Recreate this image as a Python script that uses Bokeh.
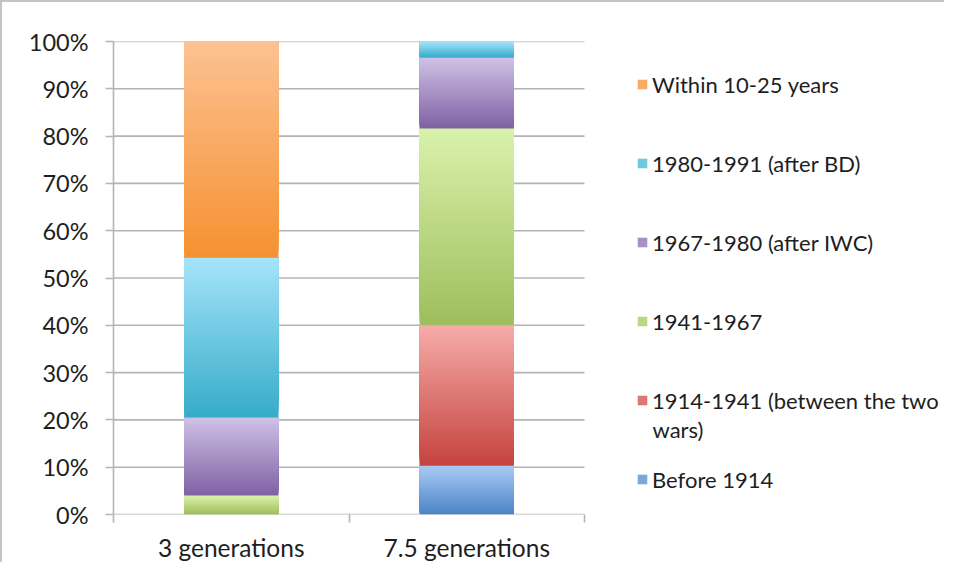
from bokeh.plotting import figure
from bokeh.models import (ColumnDataSource, Legend, LegendItem, FixedTicker,
                          Range1d, PrintfTickFormatter, Label)
from bokeh.embed import file_html
from bokeh.resources import INLINE

# ---------------- data ----------------
categories = ["3 generations", "7.5 generations"]
series_names = ["Before 1914", "1914-1941 (between the two wars)", "1941-1967",
                "1967-1980 (after IWC)", "1980-1991 (after BD)", "Within 10-25 years"]
before_1914 = [0.0, 10.3]
between_wars = [0.0, 29.7]
p1941_1967 = [4.0, 41.6]
p1967_1980 = [16.5, 15.0]
p1980_1991 = [33.8, 3.4]
within_10_25 = [45.7, 0.0]
y_ticks = [0, 10, 20, 30, 40, 50, 60, 70, 80, 90, 100]

series_values = [before_1914, between_wars, p1941_1967, p1967_1980, p1980_1991, within_10_25]
top_colors = ["#A9CBF5", "#F7ACAA", "#DAF2AB", "#CFC2E6", "#A6E4FA", "#FCC293"]
bottom_colors = ["#4A84C4", "#C4433E", "#9DBE5C", "#7F61A3", "#36ACC9", "#F69131"]

# ---------------- layout / style ----------------
FONT = "Lato"
TXT = "#1e1e1e"
GRID = "#b4b4b4"
W, H = 944, 562
LEFT, TOP, BOTTOM = 111, 39, 48
PLOT_W = 471                       # width of the data area (px)
FRAME_W = W - LEFT
FRAME_H = H - TOP - BOTTOM
n_cat = len(categories)
x_end = n_cat * FRAME_W / PLOT_W   # frame extends right to host the legend

def h2rgb(h):
    h = h.lstrip("#")
    return tuple(int(h[i:i + 2], 16) for i in (0, 2, 4))

def mix(c1, c2, t):
    a, b = h2rgb(c1), h2rgb(c2)
    return "#%02x%02x%02x" % tuple(round(a[i] + (b[i] - a[i]) * t) for i in range(3))

p = figure(width=W, height=H, output_backend="svg", toolbar_location=None,
           x_range=Range1d(0, x_end), y_range=Range1d(0, 100),
           min_border_left=LEFT, min_border_right=0, min_border_top=TOP,
           min_border_bottom=BOTTOM)
p.outline_line_color = None
p.background_fill_color = "white"
p.border_fill_color = "white"
p.styles = {"border-top": "2px solid #c4c4c4", "border-left": "2px solid #c4c4c4"}

# ---------- horizontal grid lines (only over the data area) ----------
p.segment(x0=[0] * len(y_ticks), x1=[n_cat] * len(y_ticks), y0=y_ticks, y1=y_ticks,
          line_color=GRID, line_width=1.6)

# ---------- stacked bars with vertical gradient ----------
# each segment is painted bottom-up by layers that all reach the segment top,
# so the layers overlap and leave no seams
N = 60
legend_items = []
cum = [0.0] * n_cat
for s, vals in enumerate(series_values):
    xs, bots, tops, cols = [], [], [], []
    for i, v in enumerate(vals):
        b0 = cum[i]
        if v > 0:
            for k in range(N):
                xs.append(i + 0.5)
                bots.append(b0 + v * k / N)
                tops.append(b0 + v)
                cols.append(mix(bottom_colors[s], top_colors[s], (k + 0.5) / N))
        cum[i] = b0 + v
    src = ColumnDataSource(dict(x=xs, bottom=bots, top=tops, color=cols))
    r = p.vbar(x="x", bottom="bottom", top="top", width=0.4, source=src,
               fill_color="color", line_color=None)
    legend_items.append((s, r))

# ---------- axes ----------
p.yaxis.ticker = FixedTicker(ticks=y_ticks)
p.yaxis.formatter = PrintfTickFormatter(format="%d%%")
p.yaxis.axis_line_color = GRID
p.yaxis.axis_line_width = 1.6
p.yaxis.major_tick_line_color = GRID
p.yaxis.major_tick_line_width = 1.6
p.yaxis.major_tick_out = 8
p.yaxis.major_tick_in = 0
p.yaxis.minor_tick_line_color = None
p.yaxis.major_label_standoff = 17
p.yaxis.major_label_text_font = FONT
p.yaxis.major_label_text_font_size = "23.5px"
p.yaxis.major_label_text_color = TXT

centers = [i + 0.5 for i in range(n_cat)]
p.xaxis.ticker = FixedTicker(ticks=centers, minor_ticks=list(range(n_cat + 1)))
p.xaxis.major_label_overrides = {c: lab for c, lab in zip(centers, categories)}
p.xaxis.major_tick_line_color = None
p.xaxis.major_tick_out = 8
p.xaxis.minor_tick_line_color = GRID
p.xaxis.minor_tick_line_width = 1.6
p.xaxis.minor_tick_out = 8
p.xaxis.minor_tick_in = 0
p.xaxis.axis_line_color = None
p.xaxis.major_label_standoff = 10
p.xaxis.major_label_text_font = FONT
p.xaxis.major_label_text_font_size = "24.5px"
p.xaxis.major_label_text_color = TXT

p.xgrid.grid_line_color = None
p.ygrid.grid_line_color = None

# ---------- legend ----------
LEG_X = 523          # px right of frame left
LEG_Y = 21           # px above frame bottom
LABEL_H, SPACING, GLYPH, STANDOFF = 28, 51, 12, 4
items = []
for s, r in reversed(legend_items):
    label = series_names[s]
    if s == 1:
        label = "1914-1941 (between the two"
    first = next(i for i, v in enumerate(series_values[s]) if v > 0)
    idx = sum(1 for i in range(first) if series_values[s][i] > 0) * N + N // 2
    items.append(LegendItem(label=label, renderers=[r], index=idx))

legend = Legend(items=items, location=(LEG_X, LEG_Y))
legend.border_line_color = None
legend.background_fill_alpha = 0
legend.padding = 0
legend.margin = 0
legend.glyph_width = GLYPH
legend.glyph_height = GLYPH
legend.label_standoff = STANDOFF
legend.label_height = LABEL_H
legend.spacing = SPACING
legend.label_text_font = FONT
legend.label_text_font_size = "22px"
legend.label_text_color = TXT
p.add_layout(legend)

# continuation line of the two-line legend entry
px_per_x = FRAME_W / x_end
px_per_y = FRAME_H / 100
wrap_x = (LEG_X + GLYPH + STANDOFF) / px_per_x
wrap_y = (LEG_Y + LABEL_H / 2 + (LABEL_H + SPACING) - 29) / px_per_y
p.add_layout(Label(x=wrap_x, y=wrap_y, text="wars)",
                   text_font=FONT, text_font_size="22px", text_color=TXT,
                   text_baseline="middle", text_align="left"))

open("out.html", "w").write(file_html(p, INLINE))
